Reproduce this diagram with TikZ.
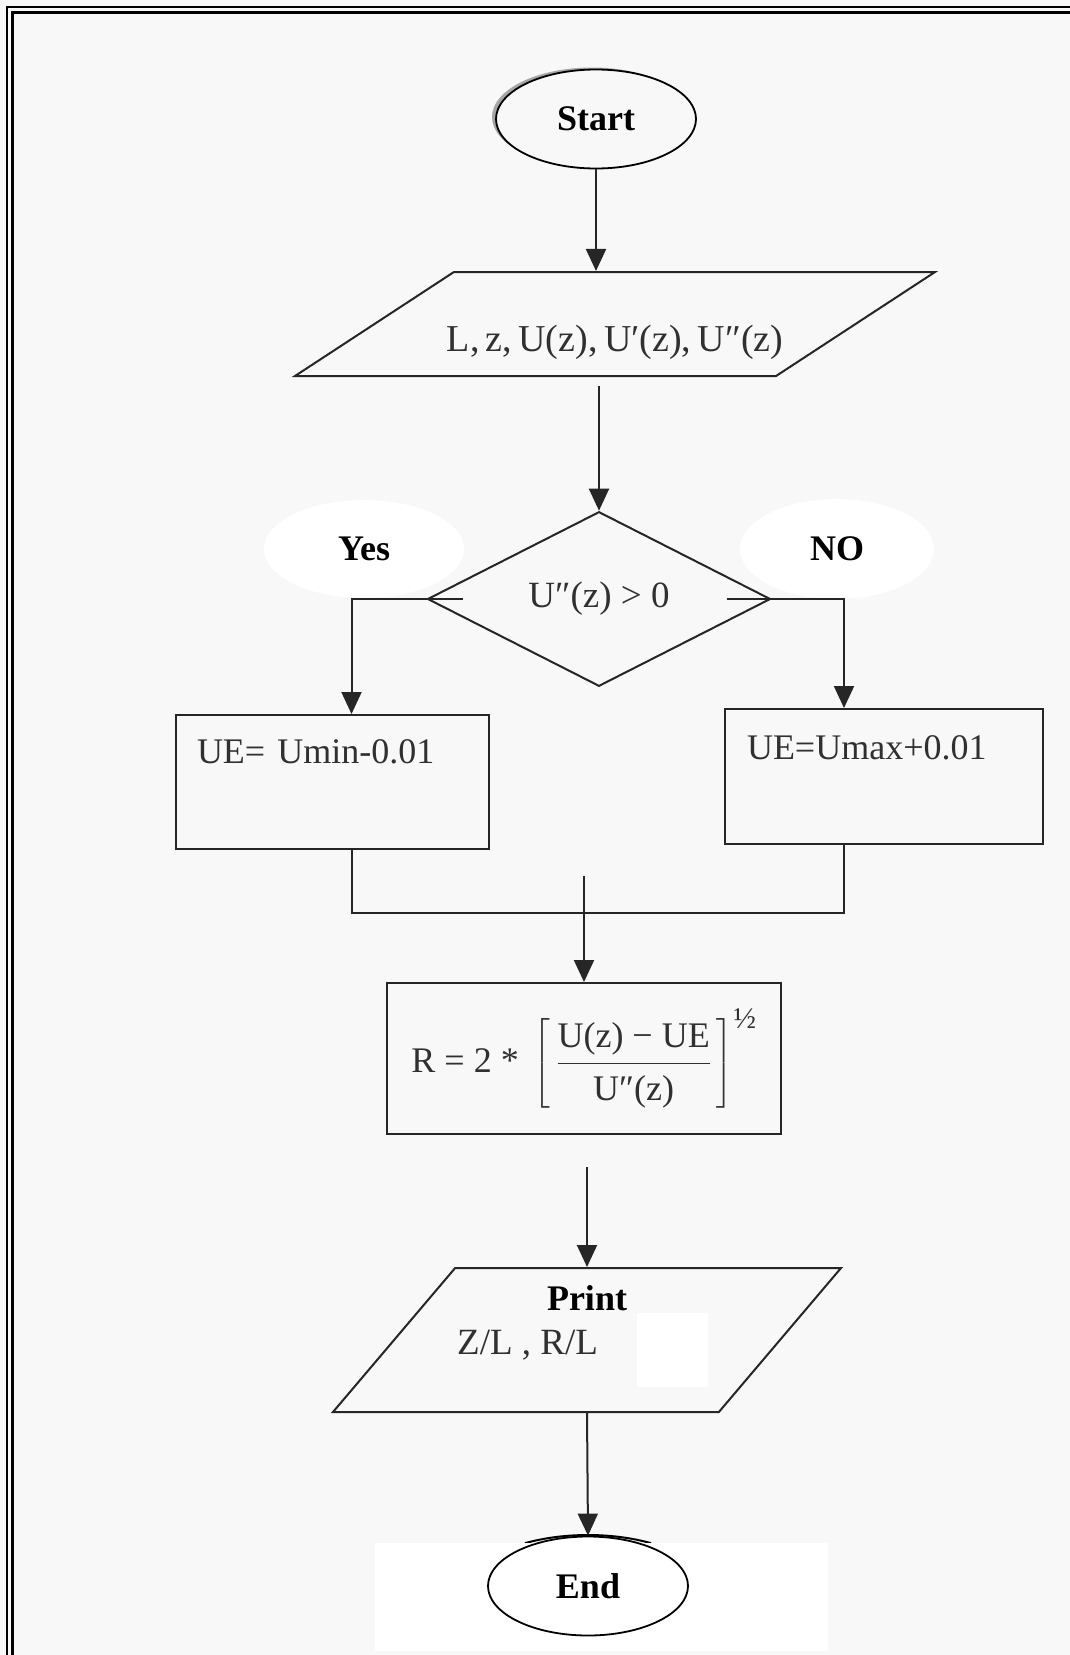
\RequirePackage{fix-cm}
\documentclass[tikz,border=0pt]{standalone}
\usepackage{amsmath}
\usepackage{fontspec}
\setmainfont{Liberation Serif}
\usetikzlibrary{arrows.meta, shapes.geometric, shadows}
\definecolor{pageBg}{HTML}{F8F8F8}
\definecolor{cLine}{HTML}{262626}
\definecolor{cText}{HTML}{303030}
\tikzset{
  term/.style={ellipse, draw=black, line width=1.8pt, inner sep=0pt,
               minimum width=200pt, minimum height=99pt,
               font=\fontsize{36}{40}\selectfont\bfseries},
  iobox/.style={trapezium, trapezium stretches body=true, draw=cLine,
                line width=2pt, inner sep=0pt},
  procbox/.style={rectangle, draw=cLine, line width=2pt, align=left,
                  inner ysep=0pt, font=\fontsize{36}{40}\selectfont, text=cText},
  decbox/.style={diamond, draw=cLine, line width=2pt, inner sep=0pt,
                 font=\fontsize{37}{42}\selectfont, text=cText},
  blob/.style={ellipse, fill=white, inner sep=0pt,
               font=\fontsize{36}{40}\selectfont\bfseries},
  txt/.style={inner sep=0pt, font=\fontsize{37}{42}\selectfont, text=cText},
  arr/.style={-{Triangle[length=22pt,width=20pt]}, draw=cLine, line width=2pt},
  conn/.style={draw=cLine, line width=2pt},
}

\begin{document}
\begin{tikzpicture}[x=1pt, y=1pt]
\useasboundingbox (0,0) rectangle (1070,-1655);
\fill[pageBg] (0,0) rectangle (1070,-1655);

% page frame
\draw[black, line width=2pt] (6.5,-1655) -- (6.5,-6.5) -- (1070,-6.5);
\draw[black, line width=3pt] (12,-1655) -- (12,-12) -- (1070,-12);

% Start
\node[term, fill=pageBg,
      drop shadow={shadow xshift=-4pt, shadow yshift=2pt, fill=gray!70, opacity=1}]
      (start) at (596,-119) {Start};

% Input data
\node[iobox, trapezium left angle=33.2, trapezium right angle=146.8,
      minimum width=640pt, minimum height=104pt,
      font=\fontsize{38}{42}\selectfont, text=cText,
      text height=79pt, text depth=25pt] (inp) at (615,-324)
      {\makebox[280pt]{L,\,z,\,U(z),\,U′(z),\,U″(z)}};
\draw[arr] (start) -- (start |- inp.north);

% Test on the second derivative
\node[decbox, minimum width=343pt, minimum height=153pt] (dec) at (599,-599)
      {U″(z) > 0};
\draw[arr] ([yshift=-9pt]inp.south -| dec.north) -- (dec.north);

\node[blob, minimum width=200pt, minimum height=98pt] (yes) at (364,-549) {Yes};
\node[blob, minimum width=194pt, minimum height=100pt] (no) at (837,-549) {NO};

% Branches
\node[procbox, text width=271pt, inner xsep=21pt, text height=48pt, text depth=86pt]
      (yesbox) at (332.5,-782) {UE= Umin-0.01};
\node[procbox, text width=274pt, inner xsep=22pt, text height=50pt, text depth=85pt]
      (nobox) at (884,-776.5) {UE=Umax+0.01};
\draw[arr] ([xshift=36pt]dec.west) -| ([xshift=19pt]yesbox.north);
\draw[arr] ([xshift=-45pt]dec.east) -| ([xshift=-40pt]nobox.north);

% Merge
\coordinate (join) at (584,-913);
\coordinate (mid) at (584,-876);
\draw[conn] ([xshift=19pt]yesbox.south) |- (join) -| ([xshift=-40pt]nobox.south);

% Radius
\node[procbox, align=center, minimum width=394pt, minimum height=151pt]
      (rbox) at (584,-1058.5)
      {$\text{R = 2 * }\left[\,\dfrac{\text{U(z) − UE}\rule[-6pt]{0pt}{6pt}}
       {\rule{0pt}{34pt}\text{U″(z)}}\,\right]^{\text{\fontsize{30}{32}\selectfont ½}}$};
\draw[arr] (mid) -- (rbox.north);

% Output
\node[iobox, trapezium left angle=49.7, trapezium right angle=130.3,
      minimum width=508pt, minimum height=144pt,
      font=\fontsize{36}{40}\selectfont\bfseries,
      text height=42pt, text depth=102pt] (print) at (587,-1340) {Print};
\node[txt, anchor=west] (prtvals) at (457,-1345) {Z/L , R/L};
\fill[white] (637,-1313) rectangle (708,-1387);
\draw[arr] ([yshift=-32pt]rbox.south -| print.north) -- (print.north);

% End
\draw[conn, draw=black] (588,-1600) ++(61:130pt and 65pt)
      arc[start angle=61, end angle=119, x radius=130pt, y radius=65pt];
\fill[white] (375,-1543) rectangle (828,-1651);
\node[term, fill=white] (stop) at (588,-1586) {End};
\draw[arr] (print.south) -- (stop.north);

\end{tikzpicture}
\end{document}
